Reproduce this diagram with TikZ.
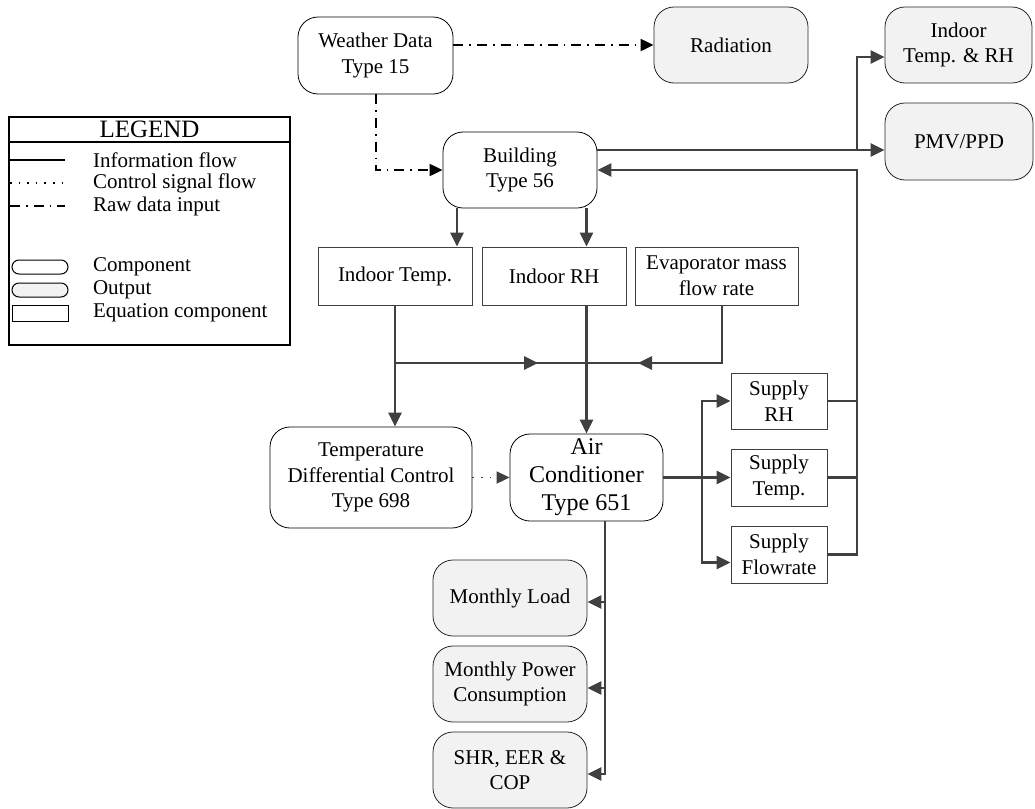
\documentclass[tikz,border=0pt]{standalone}
\usepackage{fontspec}
\setmainfont{Liberation Serif}
\usetikzlibrary{arrows.meta, positioning, calc}
\definecolor{linegray}{HTML}{404040}
\definecolor{outfill}{HTML}{F2F2F2}

\begin{document}
\begin{tikzpicture}[x=0.5pt, y=-0.5pt,
        font=\fontsize{10.5}{12.8}\selectfont,
        comp/.style={draw, rounded corners=10pt, align=center, inner sep=2pt},
        outp/.style={comp, fill=outfill, draw=black!85},
        eqn/.style={draw=linegray, align=center, inner sep=2pt},
        wire/.style={draw=linegray, line width=1.3pt},
        flow/.style={wire, -{Triangle[length=7pt,width=6.5pt]}},
        raw/.style={line width=1pt, dash pattern=on 5pt off 3pt on 0.8pt off 3pt, -{Triangle[length=6.5pt,width=6pt]}},
        ctrl/.style={draw=linegray, line width=0.9pt, dash pattern=on 0.8pt off 3.5pt, -{Triangle[length=6.5pt,width=6pt]}}
    ]
    \useasboundingbox (0,0) rectangle (1035,809);

    % legend
    \draw[line width=0.6pt] (9,117) rectangle (290,345);
    \draw[line width=0.6pt] (9,142) -- (290,142);
    \node (legtitle) at (149.5,129.5) {\fontsize{12.5}{14}\selectfont LEGEND};
    \draw[line width=1.1pt] (10,160) -- (65,160);
    \draw[line width=0.8pt, dash pattern=on 0.8pt off 3.5pt] (10,183) -- (65,183);
    \draw[line width=1.1pt, dash pattern=on 5pt off 3pt on 0.8pt off 3pt] (10,206) -- (65,206);
    \draw[line width=0.5pt, rounded corners=3.5pt] (12,260) rectangle (68,274);
    \draw[line width=0.5pt, rounded corners=3.5pt, fill=outfill] (12,283) rectangle (68,297);
    \draw[line width=0.5pt] (12,305) rectangle (68,321);
    \node[anchor=west] (leginfo) at (86,160) {Information flow};
    \node[anchor=west] (legctrl) at (86,183) {Control signal flow};
    \node[anchor=west] (legraw) at (86,206) {Raw data input};
    \node[anchor=west] (legcomp) at (86,267) {Component};
    \node[anchor=west] (legout) at (86,290) {Output};
    \node[anchor=west] (legeqn) at (86,313) {Equation component};

    % components
    \node[comp, minimum width=77.5pt, minimum height=38.5pt] (weather) at (375.5,55.5) {Weather Data\\Type 15};
    \node[comp, minimum width=77pt, minimum height=38pt] (building) at (520,170) {Building\\Type 56};
    \node[comp, minimum width=101pt, minimum height=50.5pt] (tdc) at (371,477.5) {Temperature\\Differential Control\\Type 698};
    \node[comp, minimum width=76.5pt, minimum height=43.5pt, font=\fontsize{12}{14}\selectfont] (ac) at (586.5,477.5) {Air\\Conditioner\\Type 651};

    % outputs
    \node[outp, minimum width=77pt, minimum height=38pt] (rad) at (731,45) {Radiation};
    \node[outp, minimum width=73.5pt, minimum height=38pt] (indoor) at (958.5,45) {Indoor\\Temp. \& RH};
    \node[outp, minimum width=74pt, minimum height=38.5pt] (pmv) at (959,141.5) {PMV/PPD};
    \node[outp, minimum width=77pt, minimum height=38pt] (mload) at (510,598) {Monthly Load};
    \node[outp, minimum width=77pt, minimum height=38pt] (mpow) at (510,684) {Monthly Power\\Consumption};
    \node[outp, minimum width=77pt, minimum height=38pt] (shr) at (510,770) {SHR, EER \&\\COP};

    % equation components
    \node[eqn, minimum width=77pt, minimum height=29pt] (itemp) at (395,276) {Indoor Temp.};
    \node[eqn, minimum width=72pt, minimum height=29pt] (irh) at (554,276) {Indoor RH};
    \node[eqn, minimum width=81.5pt, minimum height=29pt] (evap) at (716.5,276) {Evaporator mass\\flow rate};
    \node[eqn, minimum width=48pt, minimum height=28pt] (srh) at (779,401) {Supply\\RH};
    \node[eqn, minimum width=48pt, minimum height=28.5pt] (stemp) at (779,477.5) {Supply\\Temp.};
    \node[eqn, minimum width=48pt, minimum height=28.5pt] (sflow) at (779,554.5) {Supply\\Flowrate};

    \coordinate (b1) at (457,0);
    \coordinate (vx) at (857,0);
    \coordinate (jy) at (0,363);
    \coordinate (ex) at (722,0);
    \coordinate (sx) at (702,0);
    \coordinate (dx) at (605,0);
    \coordinate (bout) at ([yshift=10pt]building.east);

    % raw data
    \draw[raw] (weather.east |- rad.west) -- (rad.west);
    \draw[raw] (weather.south) |- (building.west);

    % building
    \draw[flow] (b1 |- building.south) -- (b1 |- itemp.north);
    \draw[flow] (ac.north |- building.south) -- (ac.north |- irh.north);
    \draw[flow] (bout) -- (bout -| pmv.west);
    \draw[flow] (vx |- bout) |- ([yshift=-6pt]indoor.west);

    % indoor values to controller and AC
    \draw[flow] (itemp.south) -- (itemp.south |- tdc.north);
    \draw[wire] (itemp.south |- jy) -- (ac.north |- jy);
    \draw[flow] (itemp.south |- jy) -- ++(143,0);
    \draw[wire] (ex |- evap.south) |- (ac.north |- jy);
    \draw[flow] (ex |- jy) -- ++(-84,0);
    \draw[flow] (ac.north |- irh.south) -- (ac.north);
    \draw[ctrl] (tdc.east |- ac.west) -- (ac.west);

    % supply air
    \draw[flow] (ac.east) -- (stemp.west);
    \draw[flow] (sx |- ac.east) |- (srh.west);
    \draw[flow] (sx |- ac.east) |- ([yshift=-4pt]sflow.west);
    \draw[wire] (srh.east) -- (vx |- srh.east);
    \draw[wire] (stemp.east) -- (vx |- stemp.east);
    \draw[flow] (sflow.east) -- (vx |- sflow.east) -- (vx |- building.east) -- (building.east);

    % monthly outputs
    \draw[flow] (dx |- ac.south) |- ([yshift=-2pt]shr.east);
    \draw[flow] ([yshift=-2pt]mload.east -| dx) -- ([yshift=-2pt]mload.east);
    \draw[flow] ([yshift=-2pt]mpow.east -| dx) -- ([yshift=-2pt]mpow.east);
\end{tikzpicture}
\end{document}
